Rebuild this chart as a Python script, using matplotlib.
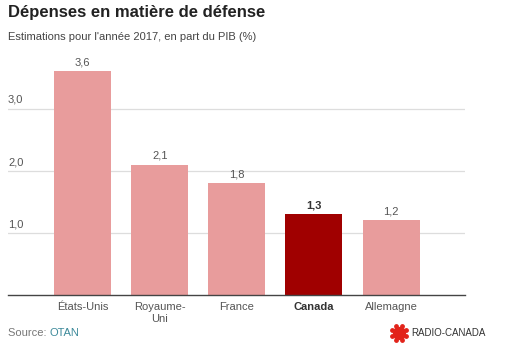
import numpy as np
import matplotlib.pyplot as plt

# Données
pays = ['États-Unis', 'Royaume-\nUni', 'France', 'Canada', 'Allemagne']
depenses = [3.6, 2.1, 1.8, 1.3, 1.2]
etiquettes = ['3,6', '2,1', '1,8', '1,3', '1,2']
yticks = [1.0, 2.0, 3.0]
ytick_labels = ['1,0', '2,0', '3,0']
surligne = 'Canada'

ROSE = '#e89c9c'
ROUGE = '#a00000'
GRIS = '#555555'

plt.rcParams['font.family'] = ['Liberation Sans', 'DejaVu Sans']

fig = plt.figure(figsize=(5.08, 3.56), dpi=100)
ax = fig.add_axes([8 / 508, 61 / 356, 457 / 508, (295 - 59) / 356])

x = np.arange(len(pays))
couleurs = [ROUGE if p == surligne else ROSE for p in pays]
ax.bar(x, depenses, width=0.74, color=couleurs, zorder=2)

for xi, v, lab, p in zip(x, depenses, etiquettes, pays):
    ax.text(xi, v + 0.06, lab, ha='center', va='bottom', fontsize=8,
            color='#333333' if p == surligne else GRIS,
            fontweight='bold' if p == surligne else 'normal')

for yv, lab in zip(yticks, ytick_labels):
    ax.axhline(yv, color='#dddddd', linewidth=0.9, zorder=1)
    ax.text(-0.97, yv + 0.06, lab, ha='left', va='bottom', fontsize=8, color=GRIS)

ax.set_xlim(-0.97, 4.96)
ax.set_ylim(0, 3.8)
ax.set_yticks([])
ax.set_xticks(x)
ax.set_xticklabels(pays, fontsize=8, color=GRIS, linespacing=1.3)
for t, p in zip(ax.get_xticklabels(), pays):
    if p == surligne:
        t.set_fontweight('bold')
        t.set_color('#333333')
ax.tick_params(axis='x', length=0, pad=5)
for s in ['top', 'right', 'left']:
    ax.spines[s].set_visible(False)
ax.spines['bottom'].set_color('#444444')
ax.spines['bottom'].set_linewidth(1.0)

fig.text(8 / 508, 1 - 13 / 356, 'Dépenses en matière de défense', fontsize=12,
         fontweight='bold', color='#222222', va='center', ha='left')
fig.text(8 / 508, 1 - 37 / 356, "Estimations pour l'année 2017, en part du PIB (%)",
         fontsize=8, color='#444444', va='center', ha='left')

src = fig.text(8 / 508, 1 - 333 / 356, 'Source: ', fontsize=8, color='#777777',
               va='center', ha='left')
fig.canvas.draw()
bb = src.get_window_extent()
fig.text(bb.x1 / fig.bbox.width, 1 - 333 / 356, 'OTAN', fontsize=8, color='#3d8a9a',
         va='center', ha='left')

# logo Radio-Canada (approximation du gem)
lg = fig.add_axes([390 / 508, 1 - 342 / 356, 18 / 508, 18 / 356])
lg.set_aspect('equal')
lg.axis('off')
lg.set_xlim(-1.1, 1.1)
lg.set_ylim(-1.1, 1.1)
ang = np.linspace(0, 2 * np.pi, 8, endpoint=False)
lg.scatter([0], [0], s=18, color='#e2231a')
lg.scatter(0.5 * np.cos(ang), 0.5 * np.sin(ang), s=8, color='#e2231a')
lg.scatter(0.88 * np.cos(ang + np.pi / 8), 0.88 * np.sin(ang + np.pi / 8), s=6, color='#e2231a')
fig.text(411 / 508, 1 - 333 / 356, 'RADIO-CANADA', fontsize=7, color='#333333',
         va='center', ha='left')

fig.savefig('out.png', dpi=100)
